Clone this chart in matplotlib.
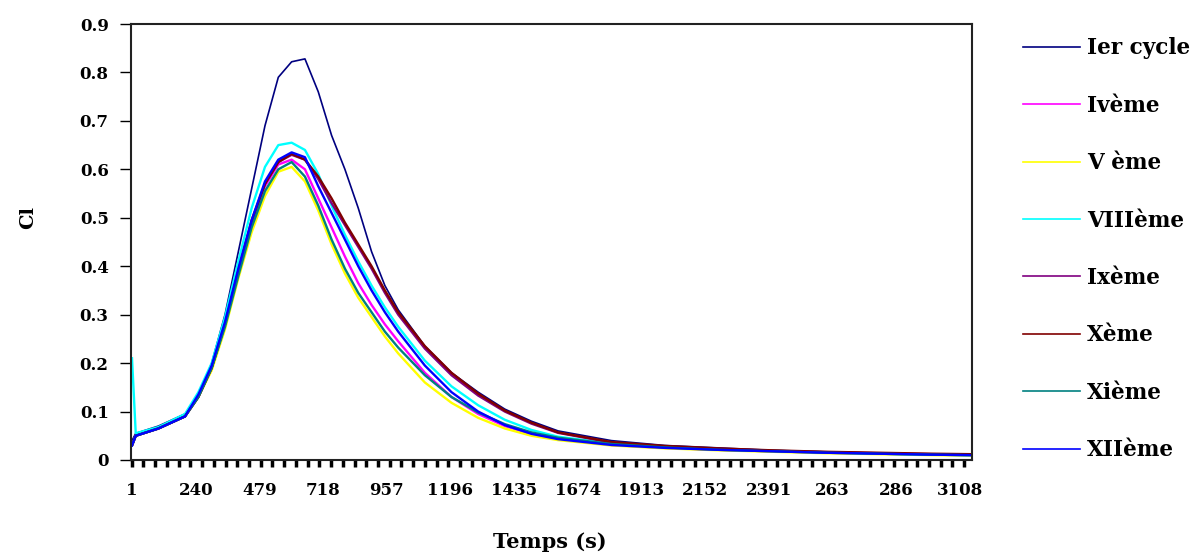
import matplotlib
matplotlib.use('Agg')
import matplotlib.pyplot as plt
from matplotlib.ticker import MultipleLocator

# time samples (s)
temps = [1, 15, 100, 200, 250, 300, 350, 400, 450, 500, 550, 600, 650, 700, 750, 800,
         850, 900, 950, 1000, 1100, 1200, 1300, 1400, 1500, 1600, 1800, 2000, 2200,
         2400, 2600, 2800, 3000, 3150]

ier = [0.04, 0.055, 0.07, 0.095, 0.13, 0.20, 0.30, 0.43, 0.56, 0.69, 0.79, 0.822, 0.828,
       0.76, 0.67, 0.60, 0.52, 0.43, 0.36, 0.31, 0.235, 0.18, 0.14, 0.105, 0.08, 0.06,
       0.04, 0.03, 0.025, 0.02, 0.017, 0.014, 0.012, 0.011]
iveme = [0.03, 0.05, 0.065, 0.09, 0.135, 0.19, 0.28, 0.39, 0.49, 0.565, 0.61, 0.62, 0.60,
         0.54, 0.48, 0.42, 0.365, 0.32, 0.28, 0.245, 0.18, 0.13, 0.095, 0.07, 0.053, 0.043,
         0.031, 0.025, 0.021, 0.018, 0.015, 0.013, 0.011, 0.01]
veme = [0.03, 0.05, 0.065, 0.09, 0.13, 0.185, 0.27, 0.375, 0.47, 0.545, 0.595, 0.605, 0.575,
        0.515, 0.445, 0.385, 0.335, 0.295, 0.255, 0.22, 0.16, 0.118, 0.087, 0.065, 0.05,
        0.041, 0.03, 0.024, 0.02, 0.017, 0.014, 0.012, 0.01, 0.009]
viiieme = [0.21, 0.055, 0.068, 0.095, 0.14, 0.20, 0.295, 0.41, 0.52, 0.605, 0.65, 0.655,
           0.64, 0.59, 0.525, 0.465, 0.41, 0.36, 0.315, 0.275, 0.205, 0.152, 0.113, 0.083,
           0.062, 0.048, 0.034, 0.027, 0.022, 0.019, 0.016, 0.013, 0.011, 0.01]
ixeme = [0.03, 0.05, 0.065, 0.09, 0.13, 0.19, 0.28, 0.39, 0.49, 0.57, 0.615, 0.63, 0.62,
         0.58, 0.53, 0.485, 0.44, 0.395, 0.345, 0.30, 0.23, 0.175, 0.133, 0.10, 0.075,
         0.056, 0.036, 0.028, 0.023, 0.019, 0.016, 0.014, 0.012, 0.011]
xeme = [0.03, 0.05, 0.065, 0.09, 0.13, 0.19, 0.28, 0.39, 0.495, 0.57, 0.615, 0.632, 0.62,
        0.585, 0.54, 0.49, 0.445, 0.40, 0.35, 0.305, 0.235, 0.18, 0.137, 0.102, 0.077,
        0.057, 0.037, 0.029, 0.024, 0.02, 0.017, 0.015, 0.013, 0.012]
xieme = [0.03, 0.05, 0.065, 0.09, 0.13, 0.19, 0.275, 0.38, 0.48, 0.555, 0.60, 0.615, 0.585,
         0.525, 0.455, 0.395, 0.345, 0.305, 0.265, 0.232, 0.175, 0.13, 0.098, 0.074, 0.057,
         0.046, 0.033, 0.026, 0.021, 0.018, 0.015, 0.013, 0.011, 0.01]
xiieme = [0.03, 0.05, 0.065, 0.09, 0.135, 0.195, 0.285, 0.395, 0.495, 0.575, 0.62, 0.635,
          0.625, 0.565, 0.51, 0.455, 0.40, 0.35, 0.305, 0.265, 0.195, 0.14, 0.10, 0.072,
          0.054, 0.043, 0.031, 0.025, 0.021, 0.018, 0.015, 0.013, 0.011, 0.01]

series = [
    ('Ier cycle', ier, '#000080'),
    ('Ivème', iveme, '#FF00FF'),
    ('V ème', veme, '#FFFF00'),
    ('VIIIème', viiieme, '#00FFFF'),
    ('Ixème', ixeme, '#800080'),
    ('Xème', xeme, '#800000'),
    ('Xième', xieme, '#008080'),
    ('XIIème', xiieme, '#0000FF'),
]

tick_pos = [1 + 239 * k for k in range(14)]
tick_labels = ['1', '240', '479', '718', '957', '1196', '1435', '1674', '1913',
               '2152', '2391', '263', '286', '3108']

plt.rcParams['font.family'] = ['DejaVu Serif']
plt.rcParams['font.weight'] = 'bold'

fig = plt.figure(figsize=(11.98, 5.53), dpi=100)
ax = fig.add_axes([0.1093, 0.1682, 0.702, 0.7884])

for name, vals, col in series:
    lw = 1.2 if name == 'Ier cycle' else 1.7
    ax.plot(temps, vals, color=col, lw=lw, label=name)

ax.set_xlim(-3, 3153)
ax.set_ylim(0, 0.9)
ax.set_yticks([i / 10 for i in range(10)])
ax.set_yticklabels(['0'] + ['0.%d' % i for i in range(1, 10)])
ax.set_xticks(tick_pos)
ax.set_xticklabels(tick_labels)
ax.xaxis.set_minor_locator(MultipleLocator(44))
ax.tick_params(axis='x', which='major', length=0, pad=16, labelsize=12)
ax.tick_params(axis='x', which='minor', length=5, width=2.5, direction='out')
ax.tick_params(axis='y', length=8, width=1, labelsize=12, pad=8)
for s in ax.spines.values():
    s.set_linewidth(1.5)
    s.set_color('#222222')

ax.set_xlabel('Temps (s)', fontsize=15, fontweight='bold')
ax.xaxis.set_label_coords(0.498, -0.165)
ax.set_ylabel('Cl', fontsize=14, fontweight='bold')
ax.yaxis.set_label_coords(-0.112, 0.557)

leg = ax.legend(loc='upper left', bbox_to_anchor=(1.0376, 1.014), frameon=False,
                fontsize=15.5, handlelength=2.65, handletextpad=0.33, labelspacing=1.645)
for line in leg.get_lines():
    line.set_linewidth(1.2)

fig.savefig('out.png', dpi=100)
